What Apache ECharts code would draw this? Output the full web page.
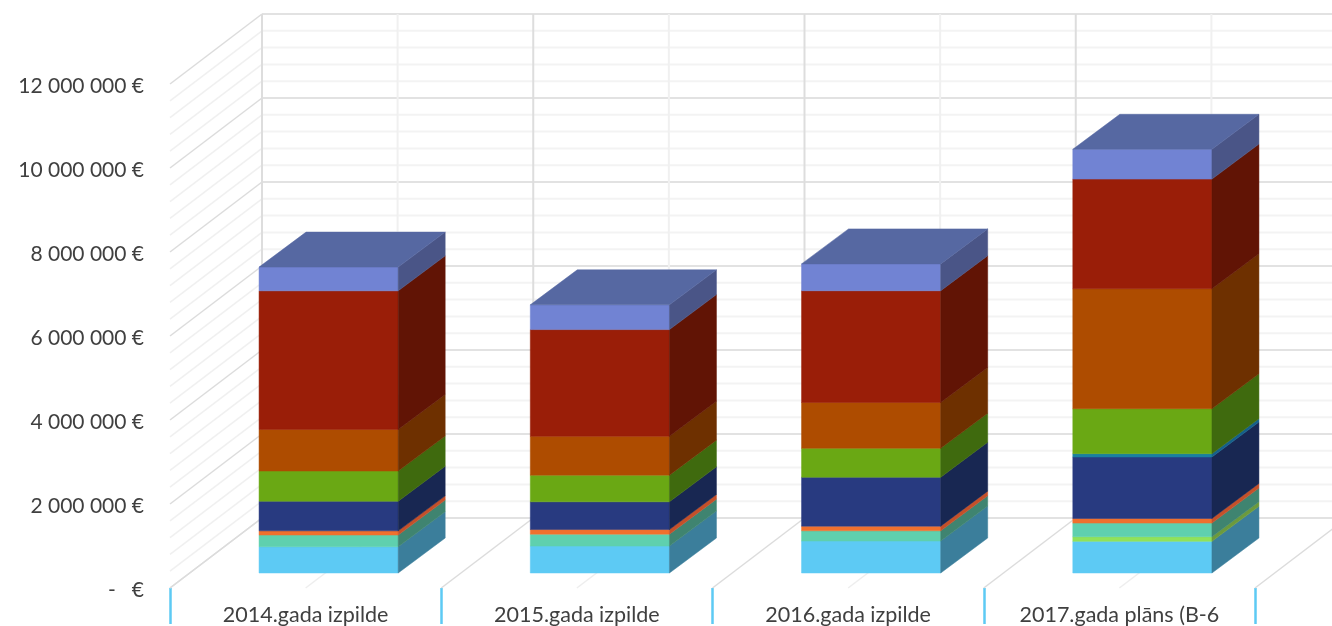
<!DOCTYPE html>
<html><head><meta charset="utf-8">
<style>html,body{margin:0;padding:0;background:#fff;overflow:hidden}#main{width:1332px;height:626px;filter:blur(0.7px)}</style>
<script src="https://cdn.jsdelivr.net/npm/echarts@6/dist/echarts.min.js"></script>
</head><body><div id="main"></div>
<script>
const categories = ['2014.gada izpilde','2015.gada izpilde','2016.gada izpilde','2017.gada plāns (B-6'];
const yTicks = [0,2000000,4000000,6000000,8000000,10000000,12000000];
const skyBlue  = [625000,640000,760000,753000];
const lime     = [0,0,0,110000];
const teal     = [278000,285000,245000,325000];
const orange   = [100000,110000,110000,110000];
const navy     = [705000,660000,1165000,1463000];
const cyanBlue = [0,0,0,80000];
const green    = [720000,635000,690000,1070000];
const brown    = [990000,925000,1090000,2857000];
const red      = [3300000,2540000,2660000,2610000];
const periwinkle = [565000,590000,640000,710000];

const stack = [
  {name:'a',values:skyBlue,front:'#5DCAF4',side:'#3B7E9B'},
  {name:'b',values:lime,front:'#90E25A',side:'#6C9A3C'},
  {name:'c',values:teal,front:'#5FD0AE',side:'#3F8470'},
  {name:'d',values:orange,front:'#F0702E',side:'#C4502A'},
  {name:'e',values:navy,front:'#283A80',side:'#182752'},
  {name:'f',values:cyanBlue,front:'#1A80A0',side:'#14608A'},
  {name:'g',values:green,front:'#6AA814',side:'#3F6A0E'},
  {name:'h',values:brown,front:'#AE4C00',side:'#6E3000'},
  {name:'i',values:red,front:'#9A1E08',side:'#611405'},
  {name:'j',values:periwinkle,front:'#7183D3',side:'#4A5587',top:'#5668A2'}
];

// oblique projection constants (pixels)
const WALL = [92,-70], BAR_OFF = [23,-15], BAR_DEPTH = [47,-35], BAR_RATIO = 0.513;

// walls: horizontal gridlines every 400 000
const gridVals = [];
for (let v = 0; v <= 12000000; v += 400000) gridVals.push(v);
const wallSeries = {
  type:'custom', silent:true, z:1, data:gridVals.map(v=>[0,v]),
  renderItem(p,api){
    const v = api.value(1), bw = api.size([1,0])[0];
    const a = api.coord([0,v]);
    const x0 = a[0]-bw/2, y = a[1];
    const major = v % 2000000 === 0;
    const bx = x0+WALL[0], by = y+WALL[1];
    return {type:'group',children:[
      {type:'line',shape:{x1:x0,y1:y,x2:bx,y2:by},style:{stroke:major?'#DCDCDC':'#F0F0F0',lineWidth:1.5}},
      {type:'line',shape:{x1:bx,y1:by,x2:bx+bw*4+10,y2:by},style:{stroke:major?'#E2E2E2':'#F3F3F3',lineWidth:2}}
    ]};
  }
};
// floor + back wall verticals every half category
const halfSteps = [];
for (let h = 0; h <= 8; h++) halfSteps.push(h);
const vertSeries = {
  type:'custom', silent:true, z:2, data:halfSteps.map(h=>[0,h]),
  renderItem(p,api){
    const h = api.value(1), bw = api.size([1,0])[0];
    const a = api.coord([0,0]), t = api.coord([0,12000000]);
    const x = a[0]-bw/2+h*bw/2;
    const major = h%2===0;
    return {type:'group',children:[
      {type:'line',shape:{x1:x,y1:a[1],x2:x+WALL[0],y2:a[1]+WALL[1]},style:{stroke:major?'#DCDCDC':'#EEEEEE',lineWidth:1.5}},
      {type:'line',shape:{x1:x+WALL[0],y1:a[1]+WALL[1],x2:x+WALL[0],y2:t[1]+WALL[1]},style:{stroke:major?'#DDDDDD':'#F0F0F0',lineWidth:2}}
    ]};
  }
};

const cum = categories.map(()=>0);
const barSeries = stack.map((s,si)=>{
  const data = s.values.map((v,i)=>{const b=cum[i]; cum[i]+=v; return [i,b,cum[i]];});
  return {
    type:'custom', name:s.name, z:5+si, silent:true, data,
    renderItem(p,api){
      const i=api.value(0), lo=api.value(1), hi=api.value(2);
      if (hi<=lo) return null;
      const bw=api.size([1,0])[0]*BAR_RATIO;
      const a=api.coord([i,lo]), b=api.coord([i,hi]);
      const xl=a[0]-bw/2+BAR_OFF[0], xr=xl+bw, y0=a[1]+BAR_OFF[1], y1=b[1]+BAR_OFF[1];
      const dx=BAR_DEPTH[0], dy=BAR_DEPTH[1];
      const poly=(pts,c)=>({type:'polygon',shape:{points:pts},style:{fill:c,stroke:c,lineWidth:0.5}});
      const children=[
        poly([[xl,y0],[xr,y0],[xr,y1],[xl,y1]],s.front),
        poly([[xr,y0],[xr+dx,y0+dy],[xr+dx,y1+dy],[xr,y1]],s.side)
      ];
      if (s.top) children.push(poly([[xl,y1],[xr,y1],[xr+dx,y1+dy],[xl+dx,y1+dy]],s.top));
      return {type:'group',children};
    }
  };
});

const chart = echarts.init(document.getElementById('main'),null,{renderer:'canvas'});
chart.setOption({
  animation:false,
  backgroundColor:'#fff',
  grid:{left:170,right:77,top:84,bottom:38,containLabel:false},
  xAxis:{type:'category',data:categories,boundaryGap:true,offset:2,
    axisLine:{show:false},
    axisTick:{show:true,length:36,inside:false,lineStyle:{color:'#5DCAF4',width:2.5}},
    axisLabel:{interval:0,margin:25,fontFamily:'Lato',fontSize:21.5,color:'#404040',verticalAlign:'middle',hideOverlap:false},
    splitLine:{show:false}},
  yAxis:{type:'value',min:yTicks[0],max:yTicks[yTicks.length-1],interval:yTicks[1]-yTicks[0],
    axisLine:{show:false},axisTick:{show:false},splitLine:{show:false},
    axisLabel:{margin:26,
      rich:{t:{fontFamily:'Lato',fontSize:21,color:'#404040',padding:[5,0,0,0]}},
      formatter:v=>'{t|'+(v===0?'-   €':String(v).replace(/\B(?=(\d{3})+$)/g,' ')+' €')+'}'}},
  series:[wallSeries,vertSeries,...barSeries]
});
</script></body></html>
